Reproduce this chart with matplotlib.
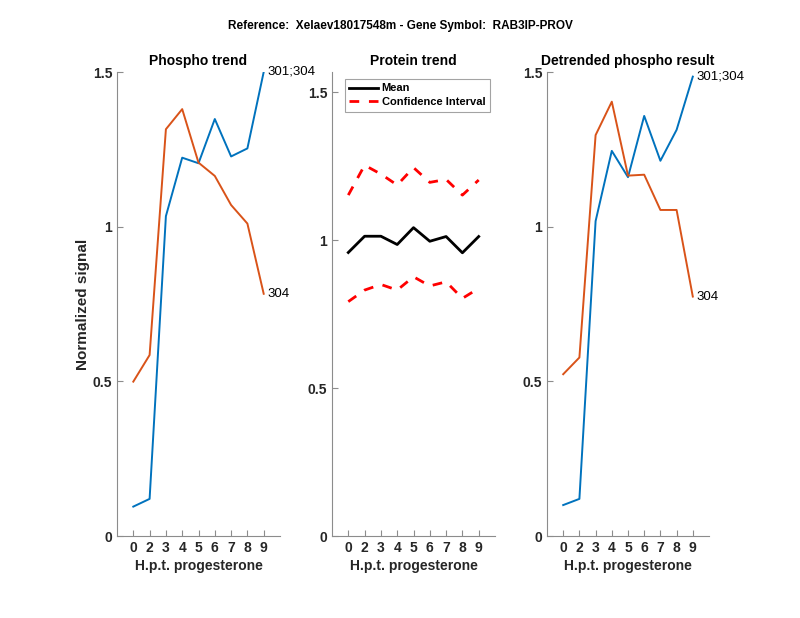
import matplotlib
matplotlib.use("Agg")
import matplotlib.pyplot as plt
from matplotlib.ticker import FuncFormatter

plt.rcParams['font.family'] = ['Liberation Sans', 'DejaVu Sans']

# ---- data ----
tick_labels = ['0', '2', '3', '4', '5', '6', '7', '8', '9']
positions = list(range(1, 10))

phospho_301_304 = [0.095, 0.12, 1.034, 1.223, 1.205, 1.348, 1.227, 1.253, 1.50]
phospho_304 = [0.499, 0.585, 1.315, 1.380, 1.207, 1.164, 1.070, 1.010, 0.783]

protein_mean = [0.958, 1.013, 1.013, 0.985, 1.042, 0.996, 1.012, 0.957, 1.012]
protein_upper = [1.152, 1.253, 1.223, 1.186, 1.245, 1.195, 1.205, 1.152, 1.203]
protein_lower = [0.792, 0.831, 0.850, 0.831, 0.876, 0.845, 0.859, 0.803, 0.837]

detr_301_304 = [0.100, 0.120, 1.018, 1.245, 1.160, 1.358, 1.213, 1.313, 1.485]
detr_304 = [0.523, 0.577, 1.296, 1.404, 1.165, 1.168, 1.054, 1.054, 0.774]

blue = '#0072BD'
orange = '#D95319'
axcol = '#262626'
spinecol = '#8c8c8c'

fig = plt.figure(figsize=(8.0, 6.18), dpi=100)
W, H = 800.0, 618.0

def make_ax(x0, x1, y_top=72, y_bot=536):
    return fig.add_axes([x0 / W, (H - y_bot) / H, (x1 - x0) / W, (y_bot - y_top) / H])

fmt = FuncFormatter(lambda v, p: ('%g' % v))

def style(ax, ylim, yticks):
    ax.set_xlim(0, 10)
    ax.set_ylim(*ylim)
    ax.set_xticks(positions)
    ax.set_xticklabels(tick_labels)
    ax.set_yticks(yticks)
    ax.yaxis.set_major_formatter(fmt)
    for s in ['top', 'right']:
        ax.spines[s].set_visible(False)
    for s in ['left', 'bottom']:
        ax.spines[s].set_color(spinecol)
        ax.spines[s].set_linewidth(0.8)
    ax.tick_params(direction='in', length=4, width=0.8, color=spinecol,
                   labelcolor=axcol, labelsize=10)
    for lab in ax.get_xticklabels() + ax.get_yticklabels():
        lab.set_fontweight('bold')
    ax.set_xlabel('H.p.t. progesterone', fontsize=10, fontweight='bold', color=axcol, labelpad=3)

ax1 = make_ax(117, 280)
ax2 = make_ax(332, 495)
ax3 = make_ax(547, 709)

# Panel 1
ax1.plot(positions, phospho_301_304, color=blue, lw=1.4)
ax1.plot(positions, phospho_304, color=orange, lw=1.4)
style(ax1, (0, 1.5), [0, 0.5, 1, 1.5])
ax1.set_title('Phospho trend', fontsize=10, fontweight='bold', pad=5)
ax1.set_ylabel('Normalized signal', fontsize=11, fontweight='bold', color=axcol, labelpad=2)
ax1.text(positions[-1] + 0.25, phospho_301_304[-1], '301;304', fontsize=9.5, va='center', ha='left', clip_on=False)
ax1.text(positions[-1] + 0.25, phospho_304[-1], '304', fontsize=9.5, va='center', ha='left', clip_on=False)

# Panel 2
ax2.plot(positions, protein_mean, color='black', lw=2.0, label='Mean')
ax2.plot(positions, protein_upper, color='red', lw=2.0, ls=(0, (3.5, 3.5)), label='Confidence Interval')
ax2.plot(positions, protein_lower, color='red', lw=2.0, ls=(0, (3.5, 3.5)))
style(ax2, (0, 1.568), [0, 0.5, 1, 1.5])
ax2.set_title('Protein trend', fontsize=10, fontweight='bold', pad=5)
leg = ax2.legend(loc='upper left', bbox_to_anchor=(0.08, 0.985), fontsize=8, frameon=True,
                 fancybox=False, edgecolor=spinecol, handlelength=2.6,
                 borderpad=0.4, labelspacing=0.35, handletextpad=0.3, borderaxespad=0.0)
leg.get_frame().set_linewidth(0.8)
for t in leg.get_texts():
    t.set_fontweight('bold')

# Panel 3
ax3.plot(positions, detr_301_304, color=blue, lw=1.4)
ax3.plot(positions, detr_304, color=orange, lw=1.4)
style(ax3, (0, 1.5), [0, 0.5, 1, 1.5])
ax3.set_title('Detrended phospho result', fontsize=10, fontweight='bold', pad=5)
ax3.text(positions[-1] + 0.25, detr_301_304[-1], '301;304', fontsize=9.5, va='center', ha='left', clip_on=False)
ax3.text(positions[-1] + 0.25, detr_304[-1], '304', fontsize=9.5, va='center', ha='left', clip_on=False)

fig.text(0.5, 1 - 26 / H, 'Reference:  Xelaev18017548m - Gene Symbol:  RAB3IP-PROV',
         ha='center', va='center', fontsize=8.5, fontweight='bold')

fig.savefig('out.png', dpi=100, facecolor='white')
